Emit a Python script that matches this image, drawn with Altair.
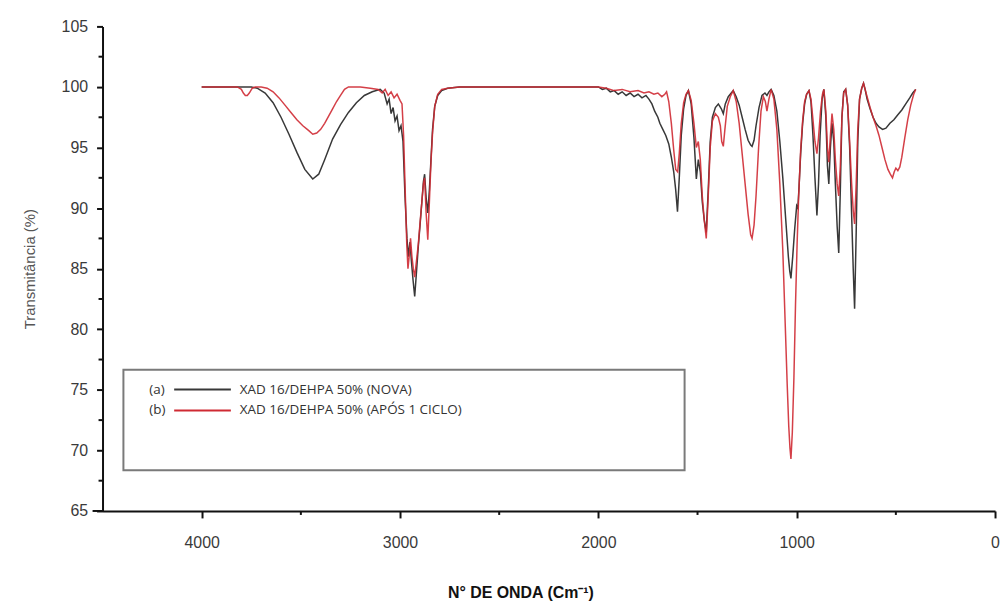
import altair as alt
import pandas as pd

# ---- data (wavenumber cm-1, transmittance %) ----
spectrum_a = [  # (a) XAD 16/DEHPA 50% (NOVA) - black
    (4000, 100), (3900, 100), (3800, 100), (3750, 100), (3720, 99.9), (3680, 99.5),
    (3640, 98.7), (3600, 97.5), (3560, 96.1), (3520, 94.6), (3480, 93.2), (3440, 92.4),
    (3410, 92.8), (3380, 94.0), (3340, 95.7), (3300, 96.9), (3260, 97.9), (3220, 98.7),
    (3180, 99.3), (3140, 99.6), (3100, 99.8), (3080, 99.5), (3065, 98.6), (3055, 99.0),
    (3045, 97.8), (3035, 98.3), (3025, 97.2), (3015, 97.6), (3005, 96.4), (2995, 96.8),
    (2985, 95.5), (2975, 91.0), (2965, 87.5), (2958, 86.0), (2950, 87.2), (2942, 85.5),
    (2934, 84.0), (2926, 82.7), (2918, 84.5), (2908, 86.8), (2900, 88.4), (2890, 90.5),
    (2882, 92.2), (2876, 92.8), (2868, 90.8), (2860, 89.6), (2852, 91.5), (2844, 94.0),
    (2836, 96.5), (2825, 98.4), (2810, 99.3), (2790, 99.7), (2760, 99.9), (2700, 100),
    (2600, 100), (2400, 100), (2200, 100), (2100, 100), (2000, 100), (1980, 99.8),
    (1960, 99.9), (1940, 99.6), (1920, 99.7), (1900, 99.4), (1880, 99.6), (1860, 99.3),
    (1840, 99.5), (1820, 99.2), (1800, 99.4), (1780, 99.1), (1760, 99.3), (1745, 99.0),
    (1730, 98.6), (1716, 98.0), (1700, 97.5), (1690, 97.0), (1675, 96.5), (1660, 96.0),
    (1645, 95.3), (1632, 94.2), (1620, 93.0), (1610, 91.5), (1601, 89.7), (1592, 92.5),
    (1582, 96.0), (1570, 98.2), (1558, 99.3), (1546, 99.7), (1532, 98.6), (1518, 95.8),
    (1506, 92.4), (1496, 94.0), (1486, 93.0), (1476, 90.5), (1466, 89.0), (1456, 88.0),
    (1446, 91.5), (1436, 95.5), (1425, 97.5), (1410, 98.3), (1395, 98.6), (1380, 98.2),
    (1370, 97.8), (1360, 98.6), (1345, 99.2), (1330, 99.5), (1320, 99.7), (1305, 99.2),
    (1290, 98.5), (1275, 97.5), (1260, 96.5), (1245, 95.6), (1232, 95.2), (1225, 95.1),
    (1215, 95.6), (1205, 96.8), (1190, 98.3), (1175, 99.3), (1160, 99.5), (1150, 99.3),
    (1140, 99.6), (1129, 99.8), (1115, 99.3), (1100, 98.0), (1085, 95.5), (1070, 92.5),
    (1055, 89.0), (1042, 86.0), (1035, 84.8), (1029, 84.2), (1020, 86.0), (1010, 88.3),
    (1000, 90.2), (994, 90.0), (988, 91.8), (980, 94.5), (970, 97.0), (960, 98.6),
    (950, 99.4), (938, 99.7), (928, 98.8), (918, 96.0), (908, 92.5), (898, 89.4),
    (890, 92.0), (882, 96.0), (872, 99.0), (863, 99.8), (853, 97.5), (845, 93.5),
    (838, 92.0), (830, 95.0), (822, 97.0), (813, 95.5), (805, 92.0), (796, 88.5),
    (788, 86.3), (780, 91.5), (772, 97.5), (763, 99.6), (753, 99.8), (743, 98.5),
    (733, 95.0), (723, 89.5), (715, 85.0), (708, 81.7), (700, 88.0), (692, 95.5),
    (683, 99.0), (672, 99.9), (663, 100.3), (655, 99.8), (645, 99.0), (630, 98.2),
    (615, 97.5), (600, 97.0), (585, 96.7), (567, 96.5), (550, 96.6), (530, 97.0),
    (510, 97.3), (490, 97.7), (470, 98.1), (450, 98.6), (430, 99.1), (415, 99.5),
    (400, 99.8),
]

spectrum_b = [  # (b) XAD 16/DEHPA 50% (APOS 1 CICLO) - red
    (4000, 100), (3900, 100), (3820, 100), (3800, 99.8), (3790, 99.5), (3780, 99.3),
    (3770, 99.3), (3760, 99.5), (3745, 99.9), (3730, 100), (3700, 100), (3670, 99.9),
    (3640, 99.6), (3610, 99.1), (3580, 98.5), (3550, 97.9), (3520, 97.3), (3490, 96.8),
    (3460, 96.4), (3440, 96.1), (3420, 96.2), (3400, 96.5), (3380, 97.0), (3360, 97.6),
    (3340, 98.2), (3320, 98.8), (3300, 99.3), (3280, 99.8), (3260, 100), (3200, 100),
    (3150, 99.9), (3110, 99.8), (3090, 99.5), (3075, 99.8), (3060, 99.3), (3045, 99.6),
    (3030, 99.1), (3015, 99.4), (3000, 98.9), (2990, 98.6), (2982, 96.0), (2974, 91.5),
    (2966, 87.0), (2960, 85.0), (2954, 86.0), (2947, 87.5), (2940, 86.0), (2933, 85.0),
    (2926, 84.3), (2918, 85.5), (2908, 87.0), (2900, 88.6), (2890, 90.5), (2882, 92.0),
    (2876, 92.5), (2868, 89.5), (2860, 87.4), (2852, 90.5), (2844, 93.8), (2836, 96.2),
    (2825, 98.4), (2810, 99.4), (2790, 99.8), (2760, 99.9), (2700, 100), (2600, 100),
    (2400, 100), (2200, 100), (2100, 100), (2000, 100), (1960, 99.9), (1920, 99.7),
    (1880, 99.8), (1840, 99.6), (1800, 99.7), (1770, 99.5), (1745, 99.6), (1720, 99.4),
    (1700, 99.5), (1680, 99.2), (1665, 99.4), (1656, 99.6), (1645, 98.8), (1632, 97.0),
    (1620, 94.8), (1610, 93.2), (1600, 93.0), (1592, 94.5), (1582, 97.0), (1570, 98.7),
    (1558, 99.4), (1546, 99.7), (1532, 98.9), (1518, 97.0), (1506, 95.0), (1496, 95.5),
    (1486, 94.0), (1476, 91.0), (1466, 89.0), (1456, 87.5), (1446, 91.0), (1436, 95.0),
    (1425, 97.2), (1410, 97.8), (1395, 97.5), (1385, 96.8), (1378, 95.5), (1370, 95.1),
    (1362, 96.5), (1350, 98.4), (1335, 99.2), (1320, 99.7), (1305, 98.8), (1290, 97.0),
    (1275, 94.5), (1260, 92.0), (1245, 89.5), (1232, 87.8), (1225, 87.5), (1215, 88.6),
    (1205, 91.0), (1192, 95.0), (1180, 98.0), (1168, 99.2), (1158, 98.8), (1150, 98.0),
    (1140, 99.0), (1129, 99.8), (1115, 99.0), (1100, 96.5), (1085, 92.0), (1070, 86.5),
    (1058, 80.5), (1048, 75.5), (1040, 72.0), (1034, 70.2), (1029, 69.3), (1022, 71.5),
    (1014, 76.0), (1006, 82.0), (998, 87.0), (990, 91.0), (980, 94.8), (970, 97.2),
    (960, 98.8), (950, 99.4), (938, 99.7), (928, 99.0), (918, 97.3), (908, 95.5),
    (898, 94.5), (890, 95.8), (880, 98.0), (870, 99.4), (863, 99.8), (853, 98.0),
    (845, 95.0), (838, 93.8), (830, 96.0), (822, 97.8), (813, 96.5), (805, 94.0),
    (796, 92.0), (788, 91.0), (780, 93.5), (772, 97.5), (763, 99.5), (753, 99.8),
    (743, 98.5), (733, 95.5), (723, 92.0), (715, 89.8), (708, 88.7), (700, 92.0),
    (692, 96.5), (683, 99.0), (672, 99.9), (663, 100.3), (655, 99.8), (645, 99.2),
    (630, 98.3), (615, 97.5), (600, 96.8), (585, 96.0), (570, 95.0), (555, 94.0),
    (540, 93.2), (528, 92.8), (517, 92.5), (508, 93.0), (500, 93.3), (490, 93.1),
    (480, 93.4), (470, 94.2), (455, 95.8), (440, 97.3), (425, 98.5), (410, 99.4),
    (400, 99.8),
]

series_tags = ["(a)", "(b)"]
series_names = ["XAD 16/DEHPA 50% (NOVA)", "XAD 16/DEHPA 50% (APÓS 1 CICLO)"]
series_colors = ["#383838", "#cf2a33"]

x_major = [0, 1000, 2000, 3000, 4000]
x_minor = [500, 1500, 2500, 3500]
y_major = [65, 70, 75, 80, 85, 90, 95, 100, 105]
y_minor = [67.5, 72.5, 77.5, 82.5, 87.5, 92.5, 97.5, 102.5]

X_DOMAIN = [0, 4500]
Y_DOMAIN = [65, 105]

W, H = 897, 487
FONT = "Liberation Sans"

xscale = alt.Scale(domain=X_DOMAIN, reverse=True, nice=False, zero=False)
yscale = alt.Scale(domain=Y_DOMAIN, nice=False, zero=False)

df_a = pd.DataFrame(spectrum_a, columns=["wn", "t"])
df_b = pd.DataFrame(spectrum_b, columns=["wn", "t"])

x_axis = alt.Axis(
    values=x_major, format="d", grid=False, labelFlush=False,
    domainColor="#111", domainWidth=2, tickColor="#111", tickWidth=2, tickSize=7,
    labelFont=FONT, labelFontSize=16, labelColor="#3a3a3a", labelPadding=17,
    title="N° DE ONDA (Cm⁻¹)", titleFont=FONT, titleFontSize=16, titleFontWeight="bold",
    titleColor="#111", titleX=420, titleY=87, titleBaseline="alphabetic", titleAlign="center",
)
y_axis = alt.Axis(
    values=y_major, format="d", grid=False, labelFlush=False,
    domainColor="#111", domainWidth=2, tickColor="#111", tickWidth=2, tickSize=6,
    labelFont=FONT, labelFontSize=16, labelColor="#3a3a3a", labelPadding=9,
    title="Transmitância (%)", titleFont=FONT, titleFontSize=15, titleFontWeight="normal",
    titleColor="#555", titleX=-73, titleY=H / 2, titleAngle=270, titleAlign="center",
    titleBaseline="middle",
)

X = alt.X("wn:Q", scale=xscale, axis=x_axis)
Y = alt.Y("t:Q", scale=yscale, axis=y_axis)

line_a = alt.Chart(df_a).mark_line(color=series_colors[0], strokeWidth=1.5).encode(x=X, y=Y)
line_b = alt.Chart(df_b).mark_line(color=series_colors[1], strokeWidth=1.5, opacity=0.9).encode(x=X, y=Y)

# minor ticks
xminor = alt.Chart(pd.DataFrame({"wn": x_minor})).mark_rule(color="#111", strokeWidth=2).encode(
    x=X, y=alt.value(H), y2=alt.value(H + 4),
)
yminor = alt.Chart(pd.DataFrame({"t": y_minor})).mark_rule(color="#111", strokeWidth=2).encode(
    y=Y, x=alt.value(-4), x2=alt.value(0),
)
# short stub of the x axis line to the left of the y axis
one = pd.DataFrame({"k": [0]})
stub = alt.Chart(one).mark_rule(color="#111", strokeWidth=2).encode(
    x=alt.value(-10), x2=alt.value(0), y=alt.value(H),
)

# legend box drawn as in the reference
box = alt.Chart(one).mark_rect(fillOpacity=0, stroke="#7a7a7a", strokeWidth=2).encode(
    x=alt.value(21), x2=alt.value(585), y=alt.value(345), y2=alt.value(446),
)
legend_layers = [box]
for i in range(len(series_names)):
    ypx = 365 + 21 * i
    row = pd.DataFrame({"tag": [series_tags[i]], "name": [series_names[i]]})
    legend_layers.append(
        alt.Chart(row).mark_text(align="left", baseline="middle", font="Open Sans",
                                 fontSize=13.5, color="#333").encode(
            x=alt.value(47), y=alt.value(ypx), text="tag:N")
    )
    legend_layers.append(
        alt.Chart(row).mark_rule(color=series_colors[i], strokeWidth=2).encode(
            x=alt.value(72), x2=alt.value(129), y=alt.value(ypx))
    )
    legend_layers.append(
        alt.Chart(row).mark_text(align="left", baseline="middle", font="Open Sans",
                                 fontSize=13.5, color="#333").encode(
            x=alt.value(138), y=alt.value(ypx), text="name:N")
    )

chart = alt.layer(line_a, line_b, xminor, yminor, stub, *legend_layers).properties(
    width=W, height=H,
    autosize=alt.AutoSizeParams(type="none"),
    padding={"left": 95, "top": 17, "right": 5, "bottom": 91},
    background="white",
).configure_view(stroke=None)

chart.save("out.html", embed_options={"renderer": "svg", "actions": False})
